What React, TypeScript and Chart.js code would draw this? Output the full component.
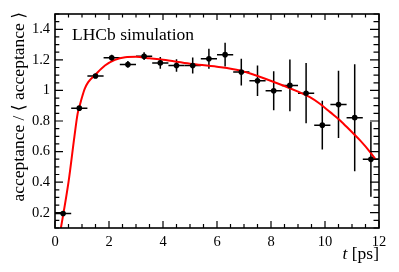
import React, { useEffect, useRef } from "react";
import { Chart, registerables } from "chart.js";

Chart.register(...registerables);

// Binned acceptance (points with error bars)
const binCenters = [0.3, 0.9, 1.5, 2.1, 2.7, 3.3, 3.9, 4.5, 5.1, 5.7, 6.3, 6.9, 7.5, 8.1, 8.7, 9.3, 9.9, 10.5, 11.1, 11.7];
const binHalfWidths = [0.3, 0.3, 0.3, 0.3, 0.3, 0.3, 0.3, 0.3, 0.3, 0.3, 0.3, 0.3, 0.3, 0.3, 0.3, 0.3, 0.3, 0.3, 0.3, 0.3];
const acceptance = [0.195, 0.884, 1.094, 1.214, 1.17, 1.224, 1.18, 1.163, 1.163, 1.207, 1.234, 1.12, 1.063, 0.998, 1.033, 0.982, 0.773, 0.908, 0.822, 0.549];
const acceptanceErr = [0.012, 0.01, 0.015, 0.02, 0.022, 0.025, 0.038, 0.041, 0.052, 0.065, 0.078, 0.087, 0.1, 0.128, 0.17, 0.197, 0.16, 0.22, 0.35, 0.245];

// Fitted acceptance curve
const curveT = [0.18, 0.5, 0.72, 0.84, 0.9, 1.0, 1.1, 1.23, 1.48, 1.85, 2.22, 2.6, 3.0, 3.5, 4.0, 5.0, 6.0, 6.85, 7.96, 9.07, 9.44, 9.81, 10.19, 10.56, 10.93, 11.3, 11.67, 11.86];
const curveAcc = [0.06, 0.4, 0.7, 0.85, 0.89, 0.955, 1.01, 1.054, 1.1, 1.163, 1.2, 1.217, 1.22, 1.21, 1.2, 1.175, 1.155, 1.13, 1.065, 0.987, 0.956, 0.913, 0.858, 0.804, 0.739, 0.673, 0.597, 0.552];

// Axes
const xMin = 0;
const xMax = 12;
const yMin = 0.1;
const yMax = 1.5;
const xTicks = [0, 2, 4, 6, 8, 10, 12];
const yTicks = [0.2, 0.4, 0.6, 0.8, 1, 1.2, 1.4];
const xMinorStep = 0.5;
const yMinorStep = 0.05;

const xTitleItalic = "t";
const xTitleRest = " [ps]";
const yTitle = "acceptance / \u27E8 acceptance \u27E9";
const labelText = "LHCb simulation";

const FONT = "'Liberation Serif', 'DejaVu Serif', serif";

export default function App() {
  const ref = useRef<HTMLCanvasElement | null>(null);

  useEffect(() => {
    const canvas = ref.current;
    if (!canvas) return;

    const decorPlugin = {
      id: "decor",
      beforeDatasetsDraw(chart: any) {
        const ctx = chart.ctx;
        const xs = chart.scales.x;
        const ys = chart.scales.y;
        ctx.save();
        ctx.beginPath();
        const a = chart.chartArea;
        ctx.rect(a.left, a.top, a.right - a.left, a.bottom - a.top);
        ctx.clip();
        ctx.strokeStyle = "#000";
        ctx.lineWidth = 1.5;
        for (let i = 0; i < binCenters.length; i++) {
          const cx = xs.getPixelForValue(binCenters[i]);
          const cy = ys.getPixelForValue(acceptance[i]);
          const x0 = xs.getPixelForValue(binCenters[i] - binHalfWidths[i]);
          const x1 = xs.getPixelForValue(binCenters[i] + binHalfWidths[i]);
          const y0 = ys.getPixelForValue(acceptance[i] - acceptanceErr[i]);
          const y1 = ys.getPixelForValue(acceptance[i] + acceptanceErr[i]);
          ctx.beginPath();
          ctx.moveTo(x0, cy);
          ctx.lineTo(x1, cy);
          ctx.moveTo(cx, y0);
          ctx.lineTo(cx, y1);
          ctx.stroke();
        }
        ctx.restore();
      },
      afterDraw(chart: any) {
        const ctx = chart.ctx;
        const xs = chart.scales.x;
        const ys = chart.scales.y;
        const { left, right, top, bottom } = chart.chartArea;
        ctx.save();
        ctx.strokeStyle = "#000";
        ctx.lineWidth = 1.2;
        ctx.beginPath();
        // x ticks (bottom and top)
        const nx = Math.round((xMax - xMin) / xMinorStep);
        for (let i = 0; i <= nx; i++) {
          const v = xMin + i * xMinorStep;
          const px = xs.getPixelForValue(v);
          const major = xTicks.some((t) => Math.abs(t - v) < 1e-6);
          const lb = major ? 7 : 4;
          const lt = major ? 6 : 3.5;
          ctx.moveTo(px, bottom);
          ctx.lineTo(px, bottom - lb);
          ctx.moveTo(px, top);
          ctx.lineTo(px, top + lt);
        }
        // y ticks (left and right)
        const ny = Math.round((yMax - yMin) / yMinorStep);
        for (let i = 0; i <= ny; i++) {
          const v = yMin + i * yMinorStep;
          const py = ys.getPixelForValue(v);
          const major = yTicks.some((t) => Math.abs(t - v) < 1e-6);
          const ll = major ? 8 : 4.3;
          const lr = major ? 9 : 5.5;
          ctx.moveTo(left, py);
          ctx.lineTo(left + ll, py);
          ctx.moveTo(right, py);
          ctx.lineTo(right - lr, py);
        }
        ctx.stroke();
        // frame
        ctx.lineWidth = 1.6;
        ctx.strokeRect(left, top, right - left, bottom - top);

        // texts
        ctx.fillStyle = "#000";
        ctx.font = `17.5px ${FONT}`;
        ctx.textBaseline = "alphabetic";
        ctx.textAlign = "left";
        ctx.fillText(labelText, left + 17, top + 25.5);

        // x title
        const restW = ctx.measureText(xTitleRest).width;
        ctx.textAlign = "right";
        ctx.fillText(xTitleRest, right, 259);
        ctx.font = `italic 17.5px ${FONT}`;
        ctx.fillText(xTitleItalic, right - restW, 259);

        // y title
        ctx.font = `17.5px ${FONT}`;
        ctx.translate(24, 12);
        ctx.rotate(-Math.PI / 2);
        ctx.textAlign = "right";
        ctx.textBaseline = "alphabetic";
        ctx.fillText(yTitle, 0, 0);
        ctx.restore();
      },
    };

    const chart = new Chart(canvas, {
      type: "scatter",
      data: {
        datasets: [
          {
            type: "line",
            data: curveT.map((t, i) => ({ x: t, y: curveAcc[i] })),
            borderColor: "#ff0000",
            borderWidth: 2,
            pointRadius: 0,
            fill: false,
            cubicInterpolationMode: "monotone",
            clip: 0,
            order: 2,
          } as any,
          {
            type: "scatter",
            data: binCenters.map((t, i) => ({ x: t, y: acceptance[i] })),
            backgroundColor: "#000",
            borderColor: "#000",
            pointRadius: 2.8,
            pointBorderWidth: 0,
            order: 1,
          } as any,
        ],
      },
      options: {
        animation: false,
        responsive: false,
        maintainAspectRatio: false,
        layout: { padding: { left: 0, right: 20, top: 14, bottom: 0 } },
        plugins: { legend: { display: false }, tooltip: { enabled: false } },
        scales: {
          x: {
            type: "linear",
            min: xMin,
            max: xMax,
            afterBuildTicks: (s: any) => {
              s.ticks = xTicks.map((v) => ({ value: v }));
            },
            afterFit: (s: any) => {
              s.height = 44;
            },
            grid: { display: false, drawTicks: false },
            border: { display: false },
            ticks: {
              padding: 5,
              color: "#000",
              autoSkip: false,
              maxRotation: 0,
              font: { family: FONT, size: 14.5 },
              callback: (v: any) => String(Number(v)),
            },
          },
          y: {
            type: "linear",
            min: yMin,
            max: yMax,
            afterBuildTicks: (s: any) => {
              s.ticks = yTicks.map((v) => ({ value: v }));
            },
            afterFit: (s: any) => {
              s.width = 55;
            },
            grid: { display: false, drawTicks: false },
            border: { display: false },
            ticks: {
              padding: 5,
              color: "#000",
              autoSkip: false,
              font: { family: FONT, size: 14.5 },
              callback: (v: any) => String(Number(Number(v).toFixed(2))),
            },
          },
        },
      } as any,
      plugins: [decorPlugin],
    });

    return () => chart.destroy();
  }, []);

  return (
    <div style={{ position: "fixed", left: 0, top: 0, width: 399, height: 272, background: "#fff" }}>
      <canvas ref={ref} width={399} height={272} style={{ width: 399, height: 272, display: "block" }} />
    </div>
  );
}
